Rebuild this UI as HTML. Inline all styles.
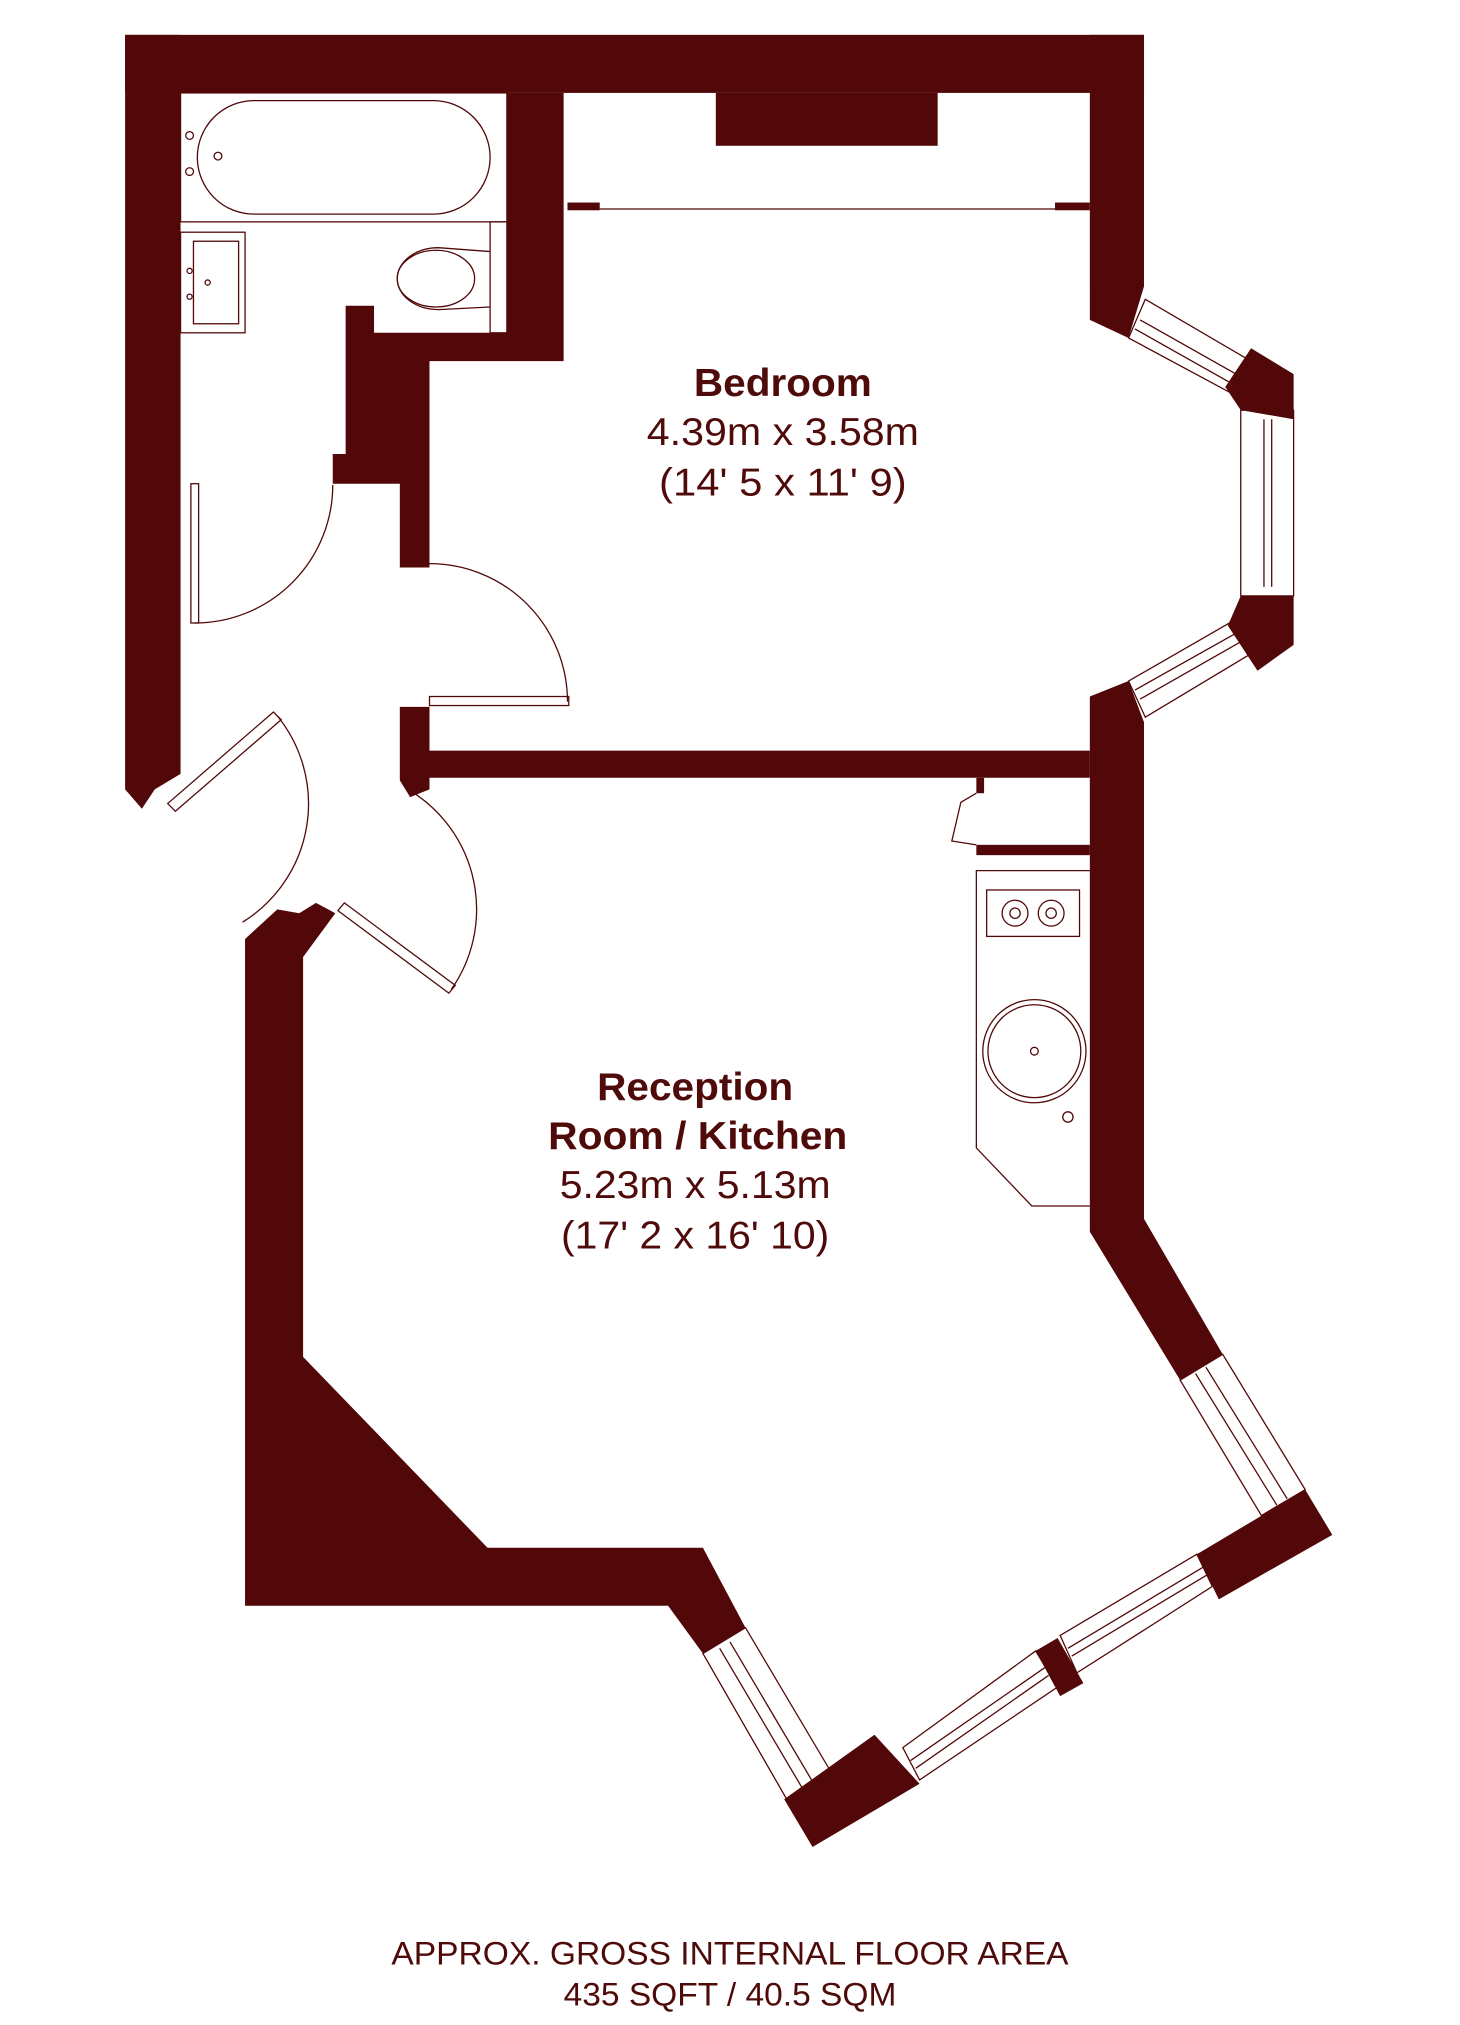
<!DOCTYPE html>
<html><head><meta charset="utf-8"><style>
html,body{margin:0;padding:0;background:#fff;}
svg{display:block;}
text{font-family:"Liberation Sans",sans-serif;fill:#4f0a0a;}
</style></head><body>
<svg width="1460" height="2025" viewBox="0 0 1132 1570" xmlns="http://www.w3.org/2000/svg">
<g fill="#520808" stroke="none">
<rect x="97" y="27" width="790" height="45"/>
<polygon points="97,27 140,27 140,600 120,612 110,627 97,612"/>
<polygon points="845,27 887,27 887,222 875,262 845,248"/>
<rect x="555" y="72" width="172" height="41"/>
<rect x="440" y="157" width="25" height="6"/>
<rect x="818" y="157" width="27" height="6"/>
<polygon points="393,72 437,72 437,280 333,280 333,440 310,440 310,375 258,375 258,352 268,352 268,237 290,237 290,258 393,258"/>
<polygon points="970,270 1003,290 1003,325 962,318 950,300"/>
<polygon points="962,462 1003,462 1003,500 975,520 952,485"/>
<polygon points="310,548 333,548 333,582 845,582 845,603 333,603 333,612 318,618 310,605"/>
<polygon points="845,540 875,528 887,560 887,945 948,1050 915,1070 845,955"/>
<rect x="757" y="603" width="6" height="12"/>
<rect x="757" y="655" width="88" height="8"/>
<polygon points="190,728 215,705 232,708 245,700 260,708 235,742 235,1052 378,1200 545,1200 578,1262 545,1282 518,1245 190,1245"/>
<polygon points="608,1395 678,1345 713,1383 630,1432"/>
<polygon points="803,1280 820,1270 840,1305 822,1315"/>
<polygon points="928,1205 1012,1155 1033,1190 945,1240"/>
</g>
<g fill="none" stroke="#520808" stroke-width="1">
<line x1="465" y1="162" x2="818" y2="162"/>
<rect x="140" y="72" width="253" height="100"/>
<rect x="153" y="78" width="227" height="88" rx="44"/>
<circle cx="147" cy="105" r="3"/><circle cx="147" cy="133" r="3"/><circle cx="169" cy="121" r="3"/>
<rect x="140" y="180" width="50" height="78"/>
<rect x="150" y="187" width="35" height="64"/>
<circle cx="147" cy="210" r="2"/><circle cx="147" cy="230" r="2"/><circle cx="161" cy="219" r="2"/>
<rect x="380" y="172" width="13" height="86"/>
<path d="M380,195 L340,192 A32,24 0 1 0 340,240 L380,238"/>
<ellipse cx="338" cy="216" rx="30" ry="22"/>
<rect x="148" y="375" width="6" height="108"/>
<path d="M151,483 A107,107 0 0 0 258,376"/>
<rect x="333" y="540" width="108" height="7"/>
<path d="M333,437 A107,107 0 0 1 440,544"/>
<polygon points="130,623 212,552 218,558 136,629"/>
<path d="M215,555 A108,108 0 0 1 188,715"/>
<polygon points="262,706 348,770 353,764 267,700"/>
<path d="M318,613 A108,108 0 0 1 350,767"/>
<polygon points="875,262 888,232 970,280 955,305"/>
<line x1="884" y1="248" x2="962" y2="292"/><line x1="880" y1="255" x2="958" y2="299"/>
<rect x="962" y="318" width="41" height="144"/>
<line x1="980" y1="325" x2="980" y2="455"/><line x1="986" y1="325" x2="986" y2="455"/>
<polygon points="875,528 955,482 968,508 888,556"/>
<line x1="880" y1="535" x2="960" y2="490"/><line x1="884" y1="542" x2="963" y2="497"/>
<path d="M757,615 L745,622 L738,652 L757,655"/>
<polyline points="845,675 757,675 757,890 800,935 845,935"/>
<rect x="765" y="690" width="72" height="36"/>
<circle cx="787" cy="708" r="10"/><circle cx="787" cy="708" r="4"/>
<circle cx="815" cy="708" r="10"/><circle cx="815" cy="708" r="4"/>
<circle cx="802" cy="815" r="40"/><circle cx="802" cy="815" r="36"/>
<circle cx="802" cy="815" r="3"/><circle cx="828" cy="866" r="4"/>
<polygon points="915,1070 948,1050 1012,1155 978,1175"/>
<line x1="927" y1="1065" x2="990" y2="1167"/><line x1="935" y1="1060" x2="998" y2="1162"/>
<polygon points="545,1282 578,1262 645,1375 610,1395"/>
<line x1="558" y1="1278" x2="623" y2="1388"/><line x1="566" y1="1273" x2="631" y2="1383"/>
<polygon points="700,1355 803,1280 820,1308 713,1380"/>
<line x1="706" y1="1365" x2="810" y2="1293"/><line x1="710" y1="1371" x2="813" y2="1299"/>
<polygon points="822,1268 928,1205 940,1230 835,1297"/>
<line x1="828" y1="1278" x2="933" y2="1215"/><line x1="831" y1="1284" x2="936" y2="1221"/>
</g>
<text x="607" y="307" font-size="30" font-weight="bold" text-anchor="middle" textLength="138" lengthAdjust="spacingAndGlyphs">Bedroom</text>
<text x="607" y="345" font-size="30" text-anchor="middle" textLength="211" lengthAdjust="spacingAndGlyphs">4.39m x 3.58m</text>
<text x="607" y="384" font-size="30" text-anchor="middle" textLength="192" lengthAdjust="spacingAndGlyphs">(14' 5 x 11' 9)</text>
<text x="539" y="853" font-size="30" font-weight="bold" text-anchor="middle" textLength="152" lengthAdjust="spacingAndGlyphs">Reception</text>
<text x="541" y="891" font-size="30" font-weight="bold" text-anchor="middle" textLength="232" lengthAdjust="spacingAndGlyphs">Room / Kitchen</text>
<text x="539" y="929" font-size="30" text-anchor="middle" textLength="210" lengthAdjust="spacingAndGlyphs">5.23m x 5.13m</text>
<text x="539" y="968" font-size="30" text-anchor="middle" textLength="208" lengthAdjust="spacingAndGlyphs">(17' 2 x 16' 10)</text>
<text x="566" y="1523" font-size="25" text-anchor="middle" textLength="525" lengthAdjust="spacingAndGlyphs">APPROX. GROSS INTERNAL FLOOR AREA</text>
<text x="566" y="1555" font-size="25" text-anchor="middle" textLength="258" lengthAdjust="spacingAndGlyphs">435 SQFT / 40.5 SQM</text>
</svg>
</body></html>
